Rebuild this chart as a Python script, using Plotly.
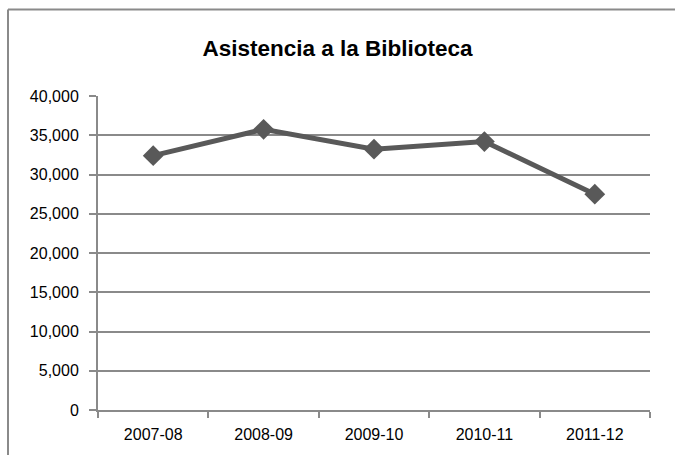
import plotly.graph_objects as go

categories = ["2007-08", "2008-09", "2009-10", "2010-11", "2011-12"]
asistencia = [32400, 35760, 33220, 34190, 27490]
y_ticks = [0, 5000, 10000, 15000, 20000, 25000, 30000, 35000, 40000]
y_tick_labels = ["0", "5,000", "10,000", "15,000", "20,000", "25,000", "30,000", "35,000", "40,000"]

fig = go.Figure()
fig.add_trace(go.Scatter(
    x=categories, y=asistencia, mode="lines+markers",
    line=dict(color="#595959", width=5),
    marker=dict(symbol="diamond", size=16, color="#595959"),
    showlegend=False,
))

font_family = "Liberation Sans, Arial, sans-serif"
grid = "#8a8a8a"

# plot area in page pixels: x 98..650, y 96.5..410.5
bx0 = -90/552
by1 = (410.5 - 10)/314

fig.update_layout(
    width=675, height=455,
    margin=dict(l=98, r=25, t=96, b=45),
    paper_bgcolor="white", plot_bgcolor="white",
    title=dict(text="<b>Asistencia a la Biblioteca</b>", x=0.5, xanchor="center",
               y=1 - 48/455, yanchor="middle",
               font=dict(family=font_family, size=22.5, color="black")),
    font=dict(family=font_family, size=16, color="black"),
    xaxis=dict(
        type="category", showline=True, linecolor=grid, linewidth=2,
        ticks="outside", tickson="boundaries", ticklen=6, tickcolor=grid, tickwidth=2,
        showgrid=False, tickfont=dict(family=font_family, size=16, color="black"),
        ticklabelstandoff=9, automargin=False,
        range=[-0.5, 4.5],
    ),
    yaxis=dict(
        range=[0, 40000], tickvals=y_ticks, ticktext=y_tick_labels,
        showline=True, linecolor=grid, linewidth=2,
        ticks="outside", ticklen=7, tickcolor=grid, tickwidth=2,
        showgrid=True, gridcolor=grid, gridwidth=1.5,
        zeroline=False, tickfont=dict(family=font_family, size=16, color="black"),
        ticklabelstandoff=7, automargin=False,
    ),
    shapes=[
        dict(type="line", xref="paper", yref="paper",
             x0=bx0, x1=1.5, y0=by1, y1=by1,
             line=dict(color=grid, width=2), layer="below"),
        dict(type="line", xref="paper", yref="paper",
             x0=bx0, x1=bx0, y0=-0.5, y1=by1,
             line=dict(color=grid, width=2), layer="below"),
    ],
)

fig.write_html(
    "out.html",
    config={"displayModeBar": False},
    post_script="document.body.style.margin='0';document.body.style.overflow='hidden';",
)
